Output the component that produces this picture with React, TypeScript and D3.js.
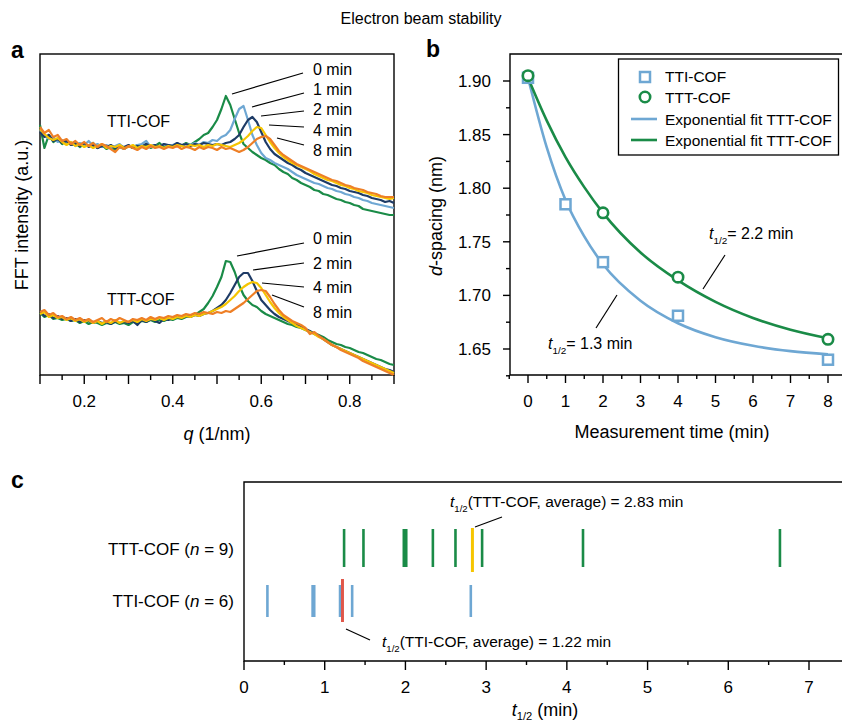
import React from "react";
import * as d3 from "d3";

const FONT = "'Liberation Sans', Arial, Helvetica, sans-serif";
const GREEN = "#1a8b47";
const LIGHTBLUE = "#6ea7d3";
const NAVY = "#1e3b66";
const YELLOW = "#f6c500";
const ORANGE = "#ee7f26";
const RED = "#e0574a";

// ---- panel a: FFT profiles, q from 0.10 to 0.90 in 0.01 steps
const qValues = d3.range(81).map((i) => +(0.1 + i * 0.01).toFixed(2));

const ttiFft0 = [
  2.5, 2.27, 2.4, 2.33, 2.36, 2.31, 2.34, 2.3, 2.32, 2.28,
  2.31, 2.29, 2.32, 2.27, 2.3, 2.26, 2.28, 2.25, 2.28, 2.26,
  2.29, 2.27, 2.3, 2.28, 2.31, 2.27, 2.29, 2.32, 2.28, 2.3,
  2.29, 2.31, 2.29, 2.32, 2.3, 2.33, 2.36, 2.4, 2.42, 2.48,
  2.55, 2.66, 2.79, 2.7, 2.56, 2.42, 2.31, 2.27, 2.23, 2.2,
  2.17, 2.15, 2.12, 2.1, 2.06, 2.03, 2.01, 1.97, 1.95, 1.92,
  1.9, 1.88, 1.85, 1.84, 1.81, 1.8, 1.78, 1.76, 1.75, 1.73,
  1.72, 1.7, 1.69, 1.66, 1.65, 1.64, 1.63, 1.62, 1.61, 1.6,
  1.6,
];
const ttiFft1 = [
  2.45, 2.4, 2.36, 2.38, 2.33, 2.35, 2.31, 2.33, 2.29, 2.32,
  2.3, 2.34, 2.29, 2.31, 2.28, 2.3, 2.27, 2.29, 2.31, 2.27,
  2.29, 2.28, 2.3, 2.31, 2.34, 2.28, 2.3, 2.28, 2.31, 2.29,
  2.3, 2.32, 2.29, 2.31, 2.3, 2.32, 2.3, 2.33, 2.32, 2.35,
  2.34, 2.38, 2.4, 2.45, 2.56, 2.66, 2.69, 2.55, 2.4, 2.3,
  2.22, 2.17, 2.15, 2.12, 2.1, 2.08, 2.06, 2.03, 2.0, 1.98,
  1.96, 1.94, 1.92, 1.91, 1.89, 1.87, 1.86, 1.84, 1.83, 1.81,
  1.8, 1.78, 1.77, 1.75, 1.74, 1.72, 1.71, 1.7, 1.69, 1.68,
  1.67,
];
const ttiFft2 = [
  2.43, 2.38, 2.4, 2.34, 2.36, 2.32, 2.34, 2.3, 2.31, 2.29,
  2.32, 2.28, 2.3, 2.27, 2.29, 2.28, 2.3, 2.27, 2.29, 2.28,
  2.3, 2.27, 2.29, 2.28, 2.31, 2.29, 2.3, 2.28, 2.31, 2.3,
  2.29, 2.32, 2.3, 2.31, 2.29, 2.31, 2.3, 2.32, 2.31, 2.3,
  2.31, 2.3, 2.32, 2.33, 2.36, 2.4, 2.48, 2.55, 2.58, 2.53,
  2.43, 2.33, 2.26, 2.21, 2.18, 2.15, 2.12, 2.1, 2.07, 2.05,
  2.02, 2.0, 1.98, 1.96, 1.94, 1.92, 1.9, 1.89, 1.87, 1.86,
  1.84, 1.83, 1.82, 1.8, 1.79, 1.77, 1.76, 1.75, 1.73, 1.74,
  1.72,
];
const ttiFft4 = [
  2.46, 2.41, 2.37, 2.35, 2.37, 2.33, 2.3, 2.33, 2.29, 2.31,
  2.28, 2.3, 2.27, 2.29, 2.31, 2.27, 2.29, 2.28, 2.3, 2.27,
  2.28, 2.3, 2.27, 2.29, 2.28, 2.3, 2.28, 2.29, 2.27, 2.29,
  2.28, 2.3, 2.29, 2.28, 2.3, 2.29, 2.3, 2.28, 2.3, 2.29,
  2.31, 2.3, 2.29, 2.28, 2.3, 2.32, 2.35, 2.39, 2.44, 2.48,
  2.47, 2.4, 2.33, 2.27, 2.22, 2.18, 2.15, 2.12, 2.1, 2.08,
  2.06, 2.04, 2.01, 1.99, 1.97, 1.95, 1.94, 1.92, 1.9, 1.89,
  1.87, 1.86, 1.84, 1.83, 1.82, 1.8, 1.79, 1.78, 1.77, 1.76,
  1.77,
];
const ttiFft8 = [
  2.48, 2.42, 2.45, 2.38, 2.4, 2.34, 2.36, 2.31, 2.34, 2.3,
  2.33, 2.29, 2.32, 2.28, 2.31, 2.29, 2.26, 2.23, 2.28, 2.26,
  2.29, 2.27, 2.25, 2.28, 2.26, 2.29, 2.27, 2.28, 2.26, 2.28,
  2.27, 2.29, 2.26, 2.28, 2.27, 2.25, 2.28, 2.26, 2.28, 2.27,
  2.25, 2.28, 2.26, 2.27, 2.25, 2.23, 2.25, 2.28, 2.32, 2.36,
  2.38, 2.39, 2.36, 2.3, 2.24, 2.2, 2.17, 2.14, 2.11, 2.09,
  2.07, 2.05, 2.03, 2.01, 1.99, 1.97, 1.95, 1.94, 1.92, 1.9,
  1.89, 1.87, 1.86, 1.85, 1.83, 1.82, 1.81, 1.79, 1.78, 1.78,
  1.78,
];
const tttFft0 = [
  0.62, 0.58, 0.6, 0.56, 0.57, 0.55, 0.56, 0.54, 0.55, 0.52,
  0.54, 0.51, 0.53, 0.52, 0.5, 0.52, 0.51, 0.53, 0.51, 0.52,
  0.5, 0.53, 0.52, 0.54, 0.53, 0.55, 0.53, 0.55, 0.54, 0.56,
  0.55, 0.57, 0.56, 0.58, 0.59, 0.6, 0.63, 0.66, 0.72, 0.79,
  0.88, 0.98, 1.14, 1.13, 1.03, 0.9, 0.8, 0.74, 0.7, 0.68,
  0.64, 0.61, 0.59, 0.57, 0.55, 0.53, 0.51, 0.5, 0.48, 0.47,
  0.45, 0.43, 0.42, 0.4, 0.38, 0.35, 0.33, 0.31, 0.3, 0.28,
  0.27, 0.25, 0.23, 0.22, 0.2, 0.18, 0.16, 0.15, 0.13, 0.11,
  0.1,
];
const tttFft2 = [
  0.64, 0.59, 0.61, 0.57, 0.59, 0.56, 0.57, 0.54, 0.56, 0.53,
  0.55, 0.54, 0.52, 0.54, 0.52, 0.53, 0.51, 0.54, 0.52, 0.53,
  0.52, 0.54, 0.5, 0.55, 0.53, 0.56, 0.54, 0.52, 0.56, 0.55,
  0.57, 0.58, 0.57, 0.59, 0.58, 0.6, 0.59, 0.61, 0.62, 0.64,
  0.67, 0.7, 0.75, 0.82, 0.9, 0.98, 1.02, 1.02, 0.94, 0.84,
  0.75, 0.7, 0.65, 0.61, 0.58, 0.56, 0.54, 0.52, 0.5, 0.48,
  0.46, 0.44, 0.41, 0.39, 0.36, 0.33, 0.3, 0.28, 0.26, 0.24,
  0.22, 0.2, 0.18, 0.16, 0.14, 0.12, 0.1, 0.08, 0.06, 0.05,
  0.03,
];
const tttFft4 = [
  0.61, 0.63, 0.58, 0.6, 0.57, 0.58, 0.55, 0.57, 0.54, 0.56,
  0.53, 0.55, 0.52, 0.54, 0.51, 0.54, 0.52, 0.55, 0.52, 0.54,
  0.53, 0.55, 0.53, 0.56, 0.54, 0.56, 0.55, 0.57, 0.55, 0.57,
  0.56, 0.58, 0.57, 0.59, 0.58, 0.6, 0.59, 0.61, 0.62, 0.64,
  0.66, 0.68, 0.71, 0.75, 0.79, 0.84, 0.88, 0.91, 0.93, 0.92,
  0.87, 0.8, 0.73, 0.67, 0.62, 0.58, 0.55, 0.52, 0.49, 0.47,
  0.45, 0.43, 0.41, 0.38, 0.36, 0.33, 0.3, 0.28, 0.26, 0.24,
  0.22, 0.2, 0.18, 0.16, 0.14, 0.12, 0.1, 0.08, 0.06, 0.04,
  0.02,
];
const tttFft8 = [
  0.63, 0.65, 0.6, 0.62, 0.58, 0.59, 0.56, 0.58, 0.55, 0.57,
  0.54, 0.56, 0.53, 0.55, 0.57, 0.53, 0.56, 0.54, 0.57, 0.55,
  0.53, 0.56, 0.55, 0.57, 0.55, 0.58, 0.56, 0.58, 0.57, 0.59,
  0.58, 0.6, 0.59, 0.61, 0.6, 0.62, 0.61, 0.63, 0.62, 0.61,
  0.63, 0.62, 0.64, 0.63, 0.66, 0.69, 0.72, 0.76, 0.8, 0.84,
  0.85, 0.84, 0.78, 0.71, 0.65, 0.6, 0.57, 0.54, 0.52, 0.5,
  0.47, 0.41, 0.43, 0.39, 0.36, 0.33, 0.3, 0.28, 0.25, 0.23,
  0.21, 0.19, 0.17, 0.14, 0.12, 0.1, 0.08, 0.06, 0.04, 0.02,
  0.0,
];

const ttiSeries = [
  { values: ttiFft0, color: GREEN },
  { values: ttiFft1, color: LIGHTBLUE },
  { values: ttiFft2, color: NAVY },
  { values: ttiFft4, color: YELLOW },
  { values: ttiFft8, color: ORANGE },
];
const tttSeries = [
  { values: tttFft0, color: GREEN },
  { values: tttFft2, color: NAVY },
  { values: tttFft4, color: YELLOW },
  { values: tttFft8, color: ORANGE },
];
const ttiTimeLabels = ["0 min", "1 min", "2 min", "4 min", "8 min"];
const tttTimeLabels = ["0 min", "2 min", "4 min", "8 min"];

// ---- panel b: d-spacing vs time
const ttiTimes = [0, 1, 2, 4, 8];
const ttiSpacing = [1.903, 1.785, 1.731, 1.681, 1.64];
const tttTimes = [0, 2, 4, 8];
const tttSpacing = [1.905, 1.777, 1.717, 1.659];
const fitTimes = [0, 0.5, 1, 1.5, 2, 3, 4, 5, 6, 7, 8];
const ttiFit = [1.903, 1.838, 1.789, 1.755, 1.729, 1.695, 1.674, 1.661, 1.653, 1.648, 1.645];
const tttFit = [1.903, 1.863, 1.829, 1.801, 1.777, 1.74, 1.714, 1.694, 1.679, 1.668, 1.66];

// ---- panel c: half-lives
const tttHalfLives = [1.24, 1.48, 1.98, 2.01, 2.34, 2.62, 2.95, 4.2, 6.64];
const ttiHalfLives = [0.29, 0.85, 0.87, 1.19, 1.34, 2.81];
const tttAverage = 2.83;
const ttiAverage = 1.22;

const xA = d3.scaleLinear().domain([0.1, 0.9]).range([40, 394]);
const yA = d3.scaleLinear().domain([0, 3.21]).range([375, 54]);
const xB = d3.scaleLinear().domain([0, 8]).range([528, 828]);
const yB = d3.scaleLinear().domain([1.65, 1.9]).range([349, 81]);
const xC = d3.scaleLinear().domain([0, 7]).range([244, 809]);

const Sub = ({ main, after, size, drop = 5 }: { main: string; after: string; size: number; drop?: number }) => (
  <>
    <tspan fontStyle="italic">{main}</tspan>
    <tspan fontSize={size * 0.62} dy={drop}>1/2</tspan>
    <tspan dy={-drop}>{after}</tspan>
  </>
);

export default function App() {
  const lineA = d3
    .line<number>()
    .x((_, i) => xA(qValues[i]))
    .y((d) => yA(d));
  const lineB = (ys: number[]) =>
    d3
      .line<number>()
      .x((_, i) => xB(fitTimes[i]))
      .y((d) => yB(d))
      .curve(d3.curveMonotoneX)(ys) as string;

  const aTicks = d3.range(17).map((i) => +(0.1 + i * 0.05).toFixed(2));
  const bxTicks = d3.range(18).map((i) => -0.5 + i * 0.5);
  const byTicks = d3.range(12).map((i) => +(1.625 + i * 0.025).toFixed(3));
  const cTicks = d3.range(15).map((i) => i * 0.5);

  const ttiLeaders = [
    [232, 94, 303, 73],
    [252, 107, 304, 93],
    [261, 116, 304, 111],
    [269, 125, 304, 127],
    [277, 138, 304, 145],
  ];
  const tttLeaders = [
    [237, 256, 304, 243],
    [253, 270, 304, 263],
    [262, 283, 304, 287],
    [272, 295, 304, 307],
  ];

  return (
    <svg
      width={842}
      height={724}
      style={{ position: "absolute", left: 0, top: 0, background: "#fff" }}
      fontFamily={FONT}
    >
      <text x={421} y={24} fontSize={16} textAnchor="middle">
        Electron beam stability
      </text>

      {/* ---------- panel a ---------- */}
      <text x={11} y={58} fontSize={23} fontWeight="bold">a</text>
      <rect x={40} y={54} width={354} height={321} fill="none" stroke="#000" strokeWidth={1.4} />
      <g fill="none" strokeWidth={2.2} strokeLinejoin="round">
        {ttiSeries.map((s, i) => (
          <path key={"i" + i} d={lineA(s.values) as string} stroke={s.color} />
        ))}
        {tttSeries.map((s, i) => (
          <path key={"t" + i} d={lineA(s.values) as string} stroke={s.color} />
        ))}
      </g>
      {aTicks.map((t, i) => (
        <line
          key={t}
          x1={xA(t)}
          x2={xA(t)}
          y1={375}
          y2={375 + (i % 2 === 0 ? 9 : 5)}
          stroke="#000"
          strokeWidth={1.4}
        />
      ))}
      {[0.2, 0.4, 0.6, 0.8].map((t) => (
        <text key={t} x={xA(t)} y={407} fontSize={17} textAnchor="middle">
          {t.toFixed(1)}
        </text>
      ))}
      <text x={217} y={440} fontSize={18} textAnchor="middle">
        <tspan fontStyle="italic">q</tspan> (1/nm)
      </text>
      <text transform="translate(28,215) rotate(-90)" fontSize={18} textAnchor="middle">
        FFT intensity (a.u.)
      </text>
      <text x={107} y={127} fontSize={16}>TTI-COF</text>
      <text x={107} y={305} fontSize={16}>TTT-COF</text>
      {ttiLeaders.map((l, i) => (
        <g key={"il" + i}>
          <line x1={l[0]} y1={l[1]} x2={l[2]} y2={l[3]} stroke="#000" strokeWidth={1.2} />
          <text x={313} y={75 + i * 20.2} fontSize={16}>{ttiTimeLabels[i]}</text>
        </g>
      ))}
      {tttLeaders.map((l, i) => (
        <g key={"tl" + i}>
          <line x1={l[0]} y1={l[1]} x2={l[2]} y2={l[3]} stroke="#000" strokeWidth={1.2} />
          <text x={313} y={244 + i * 24.7} fontSize={16}>{tttTimeLabels[i]}</text>
        </g>
      ))}

      {/* ---------- panel b ---------- */}
      <text x={426} y={57} fontSize={23} fontWeight="bold">b</text>
      <path d="M842,54 H510 V375 H842" fill="none" stroke="#000" strokeWidth={1.4} />
      {byTicks.map((t, i) => (
        <line
          key={t}
          x1={510}
          x2={510 - (i % 2 === 1 ? 7 : 4)}
          y1={yB(t)}
          y2={yB(t)}
          stroke="#000"
          strokeWidth={1.4}
        />
      ))}
      {[1.65, 1.7, 1.75, 1.8, 1.85, 1.9].map((t) => (
        <text key={t} x={491} y={yB(t) + 6} fontSize={17} textAnchor="end">
          {t.toFixed(2)}
        </text>
      ))}
      {bxTicks.map((t, i) => (
        <line
          key={t}
          x1={xB(t)}
          x2={xB(t)}
          y1={375}
          y2={375 + (i % 2 === 1 ? 8 : 4)}
          stroke="#000"
          strokeWidth={1.4}
        />
      ))}
      {d3.range(9).map((t) => (
        <text key={t} x={xB(t)} y={407} fontSize={17} textAnchor="middle">
          {t}
        </text>
      ))}
      <text x={672} y={438} fontSize={18} textAnchor="middle">
        Measurement time (min)
      </text>
      <text transform="translate(442,216) rotate(-90)" fontSize={18} textAnchor="middle">
        <tspan fontStyle="italic">d</tspan>-spacing (nm)
      </text>
      <path d={lineB(ttiFit)} fill="none" stroke={LIGHTBLUE} strokeWidth={2.6} />
      <path d={lineB(tttFit)} fill="none" stroke={GREEN} strokeWidth={2.6} />
      {ttiTimes.map((t, i) => (
        <rect
          key={t}
          x={xB(t) - 5}
          y={yB(ttiSpacing[i]) - 5}
          width={10}
          height={10}
          fill="#fff"
          stroke={LIGHTBLUE}
          strokeWidth={2.5}
        />
      ))}
      {tttTimes.map((t, i) => (
        <circle key={t} cx={xB(t)} cy={yB(tttSpacing[i])} r={5.2} fill="#fff" stroke={GREEN} strokeWidth={2.6} />
      ))}
      <line x1={725} y1={255} x2={703} y2={289} stroke="#000" strokeWidth={1.2} />
      <text x={709} y={239} fontSize={16}>
        <Sub main="t" after="= 2.2 min" size={16} />
      </text>
      <line x1={617} y1={295} x2={596} y2={328} stroke="#000" strokeWidth={1.2} />
      <text x={548} y={349} fontSize={16}>
        <Sub main="t" after="= 1.3 min" size={16} />
      </text>

      {/* legend */}
      <rect x={618.5} y={59} width={220} height={96} fill="#fff" stroke="#000" strokeWidth={1.3} />
      <rect x={640} y={72} width={10} height={10} fill="#fff" stroke={LIGHTBLUE} strokeWidth={2.5} />
      <text x={665} y={82} fontSize={15.5}>TTI-COF</text>
      <circle cx={645} cy={97} r={5.2} fill="#fff" stroke={GREEN} strokeWidth={2.6} />
      <text x={665} y={102.5} fontSize={15.5}>TTT-COF</text>
      <line x1={631} x2={657} y1={119} y2={119} stroke={LIGHTBLUE} strokeWidth={2.6} />
      <text x={665} y={124.5} fontSize={15.5}>Exponential fit TTT-COF</text>
      <line x1={631} x2={657} y1={140} y2={140} stroke={GREEN} strokeWidth={2.6} />
      <text x={665} y={145.5} fontSize={15.5}>Exponential fit TTT-COF</text>

      {/* ---------- panel c ---------- */}
      <text x={11} y={488} fontSize={23} fontWeight="bold">c</text>
      <path d="M842,482 H244 V661 H842" fill="none" stroke="#000" strokeWidth={1.4} />
      {cTicks.map((t, i) => (
        <line
          key={t}
          x1={xC(t)}
          x2={xC(t)}
          y1={661}
          y2={661 + (i % 2 === 0 ? 9 : 4)}
          stroke="#000"
          strokeWidth={1.4}
        />
      ))}
      {d3.range(8).map((t) => (
        <text key={t} x={xC(t)} y={693} fontSize={17} textAnchor="middle">
          {t}
        </text>
      ))}
      <text x={545} y={716} fontSize={18} textAnchor="middle">
        <Sub main="t" after=" (min)" size={18} drop={4} />
      </text>
      <text x={234} y={555} fontSize={17} textAnchor="end">
        TTT-COF (<tspan fontStyle="italic">n</tspan> = 9)
      </text>
      <text x={234} y={607} fontSize={17} textAnchor="end">
        TTI-COF (<tspan fontStyle="italic">n</tspan> = 6)
      </text>
      {tttHalfLives.map((v, i) => (
        <line key={"c1" + i} x1={xC(v)} x2={xC(v)} y1={529} y2={567} stroke={GREEN} strokeWidth={2.6} />
      ))}
      {ttiHalfLives.map((v, i) => (
        <line key={"c2" + i} x1={xC(v)} x2={xC(v)} y1={585} y2={617} stroke={LIGHTBLUE} strokeWidth={2.6} />
      ))}
      <line x1={xC(tttAverage)} x2={xC(tttAverage)} y1={528} y2={572} stroke={YELLOW} strokeWidth={3} />
      <line x1={xC(ttiAverage)} x2={xC(ttiAverage)} y1={579} y2={622} stroke={RED} strokeWidth={3} />
      <line x1={502} y1={517} x2={475} y2={527} stroke="#000" strokeWidth={1.2} />
      <text x={450} y={507} fontSize={15.5}>
        <Sub main="t" after={`(TTT-COF, average) = ${tttAverage.toFixed(2)} min`} size={15.5} />
      </text>
      <line x1={346} y1={629} x2={370} y2={640} stroke="#000" strokeWidth={1.2} />
      <text x={382} y={647} fontSize={15.5}>
        <Sub main="t" after={`(TTI-COF, average) = ${ttiAverage.toFixed(2)} min`} size={15.5} />
      </text>
    </svg>
  );
}
